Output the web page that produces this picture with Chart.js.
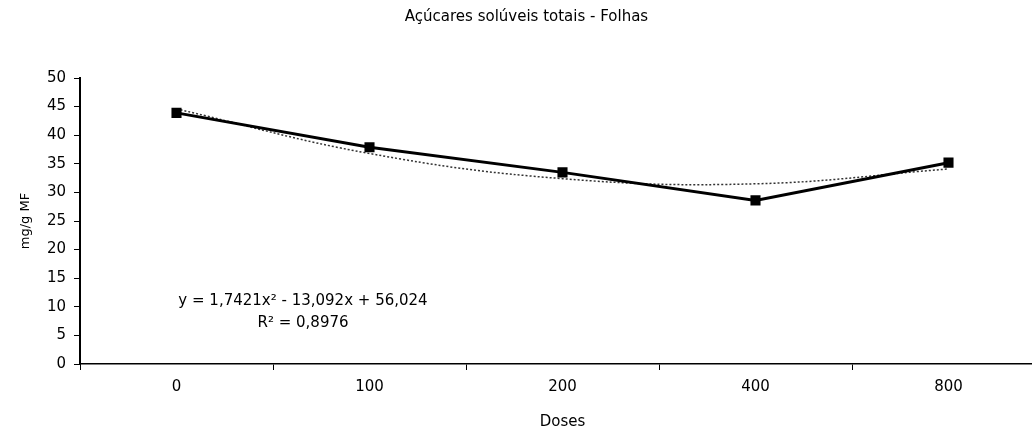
<!DOCTYPE html>
<html>
<head>
<meta charset="utf-8">
<script src="https://cdn.jsdelivr.net/npm/chart.js@4"></script>
<style>
  html, body { margin: 0; padding: 0; background: #fff; overflow: hidden; }
</style>
</head>
<body>
<canvas id="acucares" width="1053" height="432" style="width:1053px;height:432px"></canvas>
<script>
var doses = ['0', '100', '200', '400', '800'];

var acucares = [43.9, 37.9, 33.5, 28.6, 35.2];

var tendencia = [44.6, 36.8, 32.4, 31.5, 34.1];

var y_ticks = [0, 5, 10, 15, 20, 25, 30, 35, 40, 45, 50];

var equacao = ['y = 1,7421x² - 13,092x + 56,024', 'R² = 0,8976'];

var fonte = 'DejaVu Sans';

var eqPlugin = {
   id: 'equacao',
   afterDraw: function (chart) {
      var ctx = chart.ctx;
      ctx.save();
      ctx.fillStyle = '#000';
      ctx.font = '15px ' + fonte;
      ctx.textAlign = 'center';
      ctx.textBaseline = 'middle';
      ctx.fillText(equacao[0], 303, 301);
      ctx.fillText(equacao[1], 303, 323);
      ctx.restore();
   }
};

var chart_id = document.getElementById('acucares');

var chart = new Chart(chart_id, {
   type: 'line',
   data: {
      labels: doses,
      datasets: [{
         label: 'Açúcares',
         data: acucares,
         borderColor: '#000',
         backgroundColor: '#000',
         borderWidth: 3,
         pointStyle: 'rect',
         pointRadius: 5,
         pointHoverRadius: 5,
         tension: 0,
         order: 1
      }, {
         label: 'Tendência',
         data: tendencia,
         borderColor: '#333',
         borderWidth: 1.5,
         borderDash: [2, 2],
         pointRadius: 0,
         tension: 0.4,
         order: 2
      }]
   },
   plugins: [eqPlugin],
   options: {
      responsive: false,
      animation: false,
      layout: { padding: { left: 0, top: 0, right: 0, bottom: 0 } },
      plugins: {
         legend: { display: false },
         tooltip: { enabled: false },
         title: {
            display: true,
            text: 'Açúcares solúveis totais - Folhas',
            color: '#000',
            font: { family: fonte, size: 15, weight: 'normal' },
            padding: { top: 8, bottom: 52 }
         }
      },
      scales: {
         x: {
            offset: true,
            afterFit: function (scale) { scale.height = 68; },
            grid: {
               offset: true,
               drawOnChartArea: false,
               tickLength: 6,
               color: '#000'
            },
            border: { color: '#000', width: 1.5 },
            ticks: {
               color: '#000',
               padding: 8,
               maxRotation: 0,
               font: { family: fonte, size: 15 }
            },
            title: {
               display: true,
               text: 'Doses',
               color: '#000',
               font: { family: fonte, size: 15 },
               padding: { top: 0, bottom: 1 }
            }
         },
         y: {
            min: 0,
            max: 50,
            afterFit: function (scale) { scale.width = 80; },
            afterBuildTicks: function (scale) {
               scale.ticks = y_ticks.map(function (v) { return { value: v }; });
            },
            grid: {
               drawOnChartArea: false,
               tickLength: 6,
               color: '#000'
            },
            border: { color: '#000', width: 2 },
            ticks: {
               color: '#000',
               padding: 8,
               font: { family: fonte, size: 15 }
            },
            title: {
               display: true,
               text: 'mg/g MF',
               color: '#000',
               font: { family: fonte, size: 13 },
               padding: { top: 18, bottom: 0 }
            }
         }
      }
   }
});
</script>
</body>
</html>
